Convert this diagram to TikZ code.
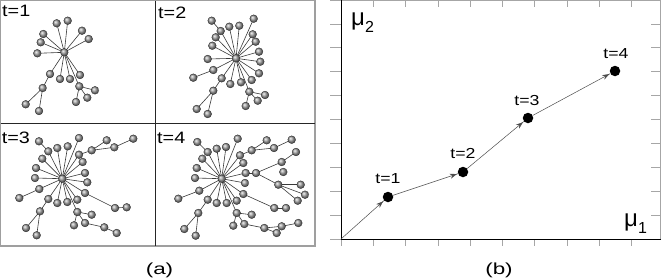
\documentclass[tikz,border=0pt]{standalone}
\usepackage{fontspec}
\setmainfont{Liberation Sans}
\usetikzlibrary{arrows.meta,decorations.markings}
\pgfdeclarelayer{bg}
\pgfsetlayers{bg,main}
\newcommand{\panellbl}[1]{\fontsize{16.5}{16.5}\selectfont\scalebox{1.2}[1]{#1}}
\newcommand{\plotlbl}[1]{\fontsize{14.5}{14.5}\selectfont\scalebox{1.22}[1]{#1}}
\newcommand{\caplbl}[1]{\fontsize{16}{16}\selectfont\scalebox{1.4}[1]{#1}}
\begin{document}
\begin{tikzpicture}[x=1pt,y=-1pt,
  ball/.style={circle,inner sep=0pt,minimum size=7.8pt,shading=ball,ball color=gray!75,draw=gray!30!black,line width=0.3pt},
  link/.style={draw=gray!45!black,line width=0.6pt},
  dot/.style={circle,fill=black,inner sep=0pt,minimum size=10.5pt},
  track/.style={draw=gray!60!black,line width=0.5pt,postaction={decorate},
    decoration={markings,mark=at position -1pt with {\arrow{Stealth[length=7pt,width=5pt]}}}},
  frameline/.style={draw=gray!75,line width=1.4pt},
  divider/.style={draw=black!85,line width=0.9pt},
  tick/.style={draw=gray!70,line width=0.8pt},
  axis/.style={draw=black,line width=0.8pt},
  border/.style={draw=gray!70,line width=0.8pt},
  txt/.style={inner sep=0pt}
]
\useasboundingbox (0,0) rectangle (664,279);

% ---------- panel (a) frame ----------
\draw[frameline] (0.7,0.7) rectangle (315,246);
\draw[divider] (155,0.7) -- (155,246);
\draw[divider] (0.7,123) -- (315,123);

% ---------- t=1 ----------
\foreach \n/\px/\py in {
 a0/64.3/52.3, a1/56.7/23.3, a2/67.7/20.7, a3/43.3/34, a4/40.7/42.3, a5/37.3/53.3,
 a6/82/30.7, a7/88.7/39, a8/80/75, a9/70/79, a10/60/79, a11/50/74, a12/79.3/86.3,
 a13/95/90.3, a14/87.3/97.7, a15/76/102, a16/42.7/88, a17/25.7/104.3, a18/39/111}
  \node[ball] (\n) at (\px,\py) {};
\begin{pgfonlayer}{bg}
\foreach \u/\v in {a0/a1,a0/a2,a0/a3,a0/a4,a0/a5,a0/a6,a0/a7,a0/a8,a0/a9,a0/a10,a0/a11,a0/a12,
 a12/a13,a12/a14,a12/a15,a11/a16,a16/a17,a16/a18}
  \draw[link] (\u.center) -- (\v.center);
\end{pgfonlayer}
\node[txt,anchor=base west] (ta) at (2,16.7) {\panellbl{t=1}};

% ---------- t=2 ----------
\foreach \n/\px/\py in {
 b0/236/58.3, b1/211.7/20.7, b2/220.7/31, b3/229.3/26.7, b4/239.3/25.7, b5/253.7/18.7,
 b6/252.7/34.3, b7/255.7/41.7, b8/215.7/37.3, b9/212.3/45.7, b10/259/51.7, b11/260.3/61.7,
 b12/259/73.3, b13/251.7/80, b14/207.7/59, b15/213.3/70, b16/193.3/77.7, b17/221.7/78.3,
 b18/230.3/84, b19/241/82.3, b20/213.3/90.7, b21/196.7/109, b22/207.7/114, b23/249.3/91.7,
 b24/265/95, b25/257.7/100.7, b26/245.7/106}
  \node[ball] (\n) at (\px,\py) {};
\begin{pgfonlayer}{bg}
\foreach \u/\v in {b1/b2,b0/b2,b0/b3,b0/b4,b0/b5,b0/b6,b0/b7,b0/b8,b0/b9,b0/b10,b0/b11,b0/b12,
 b0/b13,b0/b14,b0/b15,b15/b16,b0/b17,b0/b18,b0/b19,b17/b20,b20/b21,b20/b22,b0/b23,b23/b24,b23/b25,b23/b26}
  \draw[link] (\u.center) -- (\v.center);
\end{pgfonlayer}
\node[txt,anchor=base west] (tb) at (158,18.3) {\panellbl{t=2}};

% ---------- t=3 ----------
\foreach \n/\px/\py in {
 c0/62.3/178.7, c1/39/141.3, c2/48.3/151.3, c3/57.3/148, c4/67.7/146.3, c5/79/138,
 c6/79/154.7, c7/82.7/162, c8/42.3/158.7, c9/36/168, c10/35/178, c11/85/173, c12/87.3/182.3,
 c13/85/193, c14/77.3/199.7, c15/39.3/189, c16/19.3/198, c17/48.3/199, c18/57.3/203,
 c19/67.3/202, c20/40/211.3, c21/26/228, c22/36.7/235.3, c23/77.3/212, c24/91.7/214.7,
 c25/74/225.3, c26/85/223, c27/104.3/227.3, c28/116.7/233, c29/115/208, c30/126.7/207.3,
 c31/91.7/150.3, c32/114.3/147.3, c33/106.7/140.3, c34/133.3/138.7}
  \node[ball] (\n) at (\px,\py) {};
\begin{pgfonlayer}{bg}
\foreach \u/\v in {c1/c2,c0/c2,c0/c3,c0/c4,c0/c5,c0/c6,c0/c7,c0/c8,c0/c9,c0/c10,c0/c11,c0/c12,
 c0/c13,c0/c14,c0/c15,c15/c16,c0/c17,c0/c18,c0/c19,c17/c20,c20/c21,c20/c22,c0/c23,c23/c24,c23/c25,
 c23/c26,c26/c27,c27/c28,c13/c29,c29/c30,c6/c31,c31/c33,c31/c32,c32/c34}
  \draw[link] (\u.center) -- (\v.center);
\end{pgfonlayer}
\node[txt,anchor=base west] (tc) at (1.7,143) {\panellbl{t=3}};

% ---------- t=4 ----------
\foreach \n/\px/\py in {
 d0/221.7/178.7, d1/197.3/142, d2/207.7/152, d3/216.7/148.7, d4/226/147, d5/237.7/138.7,
 d6/240/155.3, d7/243.3/163, d8/202.3/158.7, d9/196.7/168, d10/195/178, d11/245.7/173,
 d12/245/183, d13/243.3/194, d14/236.7/200.7, d15/199.3/190.7, d16/178.3/198.7,
 d17/207.7/199.7, d18/216.7/203, d19/226.7/203, d20/198.3/213, d21/184.3/229, d22/195.7/235.7,
 d23/236.7/213, d24/251.7/214.7, d25/233.3/225.7, d26/244.3/224, d27/264.3/228, d28/276.7/233,
 d29/274.3/208, d30/286/208, d31/251.7/150.3, d32/274/148, d33/266.7/140.3, d34/291.7/139.7,
 d35/281.7/226.3, d36/298.3/223, d37/256/173, d38/281.7/162, d39/296/152, d40/283.3/172,
 d41/278.3/184.7, d42/300.7/184.7, d43/305/194.7, d44/297.7/200.7}
  \node[ball] (\n) at (\px,\py) {};
\begin{pgfonlayer}{bg}
\foreach \u/\v in {d1/d2,d0/d2,d0/d3,d0/d4,d0/d5,d0/d6,d0/d7,d0/d8,d0/d9,d0/d10,d0/d11,d0/d12,
 d0/d13,d0/d14,d0/d15,d15/d16,d0/d17,d0/d18,d0/d19,d17/d20,d20/d21,d20/d22,d0/d23,d23/d24,d23/d25,
 d23/d26,d26/d27,d27/d28,d27/d35,d35/d36,d13/d29,d29/d30,d6/d31,d31/d33,d31/d32,d32/d34,
 d11/d37,d37/d38,d38/d39,d37/d41,d41/d42,d41/d43,d41/d44}
  \draw[link] (\u.center) -- (\v.center);
\end{pgfonlayer}
\node[txt,anchor=base west] (td) at (157,143) {\panellbl{t=4}};

\node (capa) at (159.5,270) {\caplbl{(a)}};

% ---------- panel (b) ----------
\foreach \k in {0,...,9} {
  \draw[tick] ({341+32.3*\k},239) -- ({341+32.3*\k},246);
}
\foreach \k in {1,...,9} {
  \draw[tick] ({341+32.3*\k},0) -- ({341+32.3*\k},7);
}
\foreach \k in {0,...,10} {
  \draw[tick] (330,{239-23.9*\k}) -- (341,{239-23.9*\k});
  \draw[tick] (651,{239-23.9*\k}) -- (660.5,{239-23.9*\k});
}
\draw[border] (341,0.5) -- (660.5,0.5) -- (660.5,239);
\draw[axis] (341,0) -- (341,239) -- (660.5,239);

\coordinate (p0) at (341,239);
\node[dot] (p1) at (388,197) {};
\node[dot] (p2) at (463,172) {};
\node[dot] (p3) at (528,118) {};
\node[dot] (p4) at (615,71) {};
\draw[track] (p0) -- (p1);
\draw[track] (p1) -- (p2);
\draw[track] (p2) -- (p3);
\draw[track] (p3) -- (p4);

\node[txt] (l1) at (388,179) {\plotlbl{t=1}};
\node[txt] (l2) at (463,153) {\plotlbl{t=2}};
\node[txt] (l3) at (527,101) {\plotlbl{t=3}};
\node[txt] (l4) at (616,54) {\plotlbl{t=4}};

\node[txt,anchor=base west] (mu2) at (351,25) {\fontsize{24}{24}\selectfont μ\raisebox{-7pt}{\fontsize{16}{16}\selectfont 2}};
\node[txt,anchor=base west] (mu1) at (624,226) {\fontsize{24}{24}\selectfont μ\raisebox{-7pt}{\fontsize{16}{16}\selectfont 1}};

\node (capb) at (499,270) {\caplbl{(b)}};
\end{tikzpicture}
\end{document}
